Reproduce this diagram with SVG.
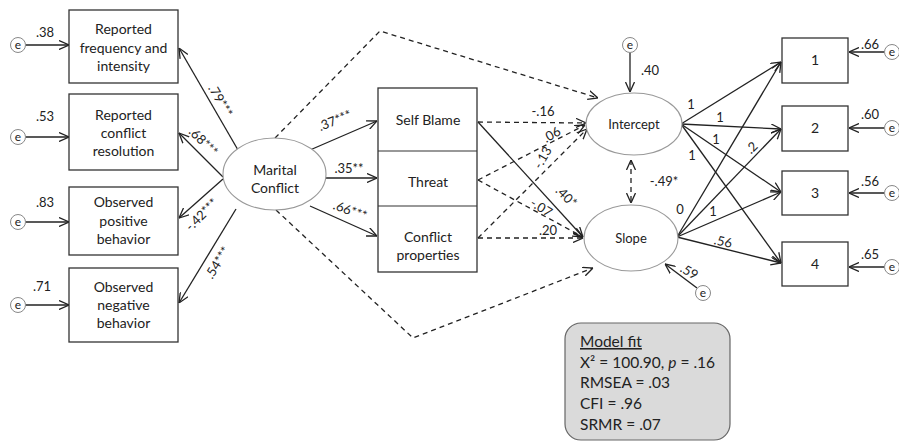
<svg xmlns="http://www.w3.org/2000/svg" width="899" height="443" viewBox="0 0 899 443">
<defs>
<style>
.box{fill:#fff;stroke:#333;stroke-width:1.3}
.ell{fill:#fff;stroke:#999;stroke-width:1.1}
.ec{fill:#fff;stroke:#888;stroke-width:1}
.t{font-family:Lato,"Liberation Sans",sans-serif;font-size:14px;fill:#222;text-anchor:middle}
.et{font-family:Lato,"Liberation Sans",sans-serif;font-size:12px;fill:#222;text-anchor:middle}
.l{font-family:Lato,"Liberation Sans",sans-serif;font-size:13px;fill:#222;text-anchor:middle}
.fit{font-family:Lato,"Liberation Sans",sans-serif;font-size:15.5px;fill:#222}
.c{fill:none;stroke:#222;stroke-width:1.3;marker-end:url(#a)}
.d{fill:none;stroke:#222;stroke-width:1.3;stroke-dasharray:5 4;marker-end:url(#a)}
</style>
<marker id="a" viewBox="0 0 10 10" refX="10" refY="5" markerWidth="10" markerHeight="10" markerUnits="userSpaceOnUse" orient="auto-start-reverse">
<path d="M0,0.5 L10,5 L0,9.5" fill="none" stroke="#222" stroke-width="1.3"/>
</marker>
</defs>
<rect width="899" height="443" fill="#fff"/>

<g id="connectors">
<path class="c" d="M238,150 L179,48"/>
<path class="c" d="M223,177 L179,133"/>
<path class="c" d="M223,179 L179,218"/>
<path class="c" d="M236,209 L179,303"/>
<path class="c" d="M26,45 L69,45"/>
<path class="c" d="M26,137 L69,137"/>
<path class="c" d="M26,222 L69,222"/>
<path class="c" d="M26,305 L69,305"/>
<path class="c" d="M310,150 L377,121"/>
<path class="c" d="M325,178 L377,178"/>
<path class="c" d="M310,206 L377,236"/>
<path class="d" d="M275,138 L380,31 L598,98"/>
<path class="d" d="M276,210 L413,338 L593,268"/>
<path class="d" d="M478,122 L586,123"/>
<path class="c" d="M478,122 L583,237"/>
<path class="d" d="M478,180 L585,125"/>
<path class="d" d="M478,180 L583,237"/>
<path class="d" d="M478,238 L587,129"/>
<path class="d" d="M478,238 L583,238"/>
<path class="c" d="M630,53 L630,92"/>
<path class="d" d="M631,160 L631,203" marker-start="url(#a)"/>
<path class="c" d="M697,288 L665,264"/>
<path class="c" d="M681,124 L781,62"/>
<path class="c" d="M681,124 L781,129"/>
<path class="c" d="M681,124 L781,192"/>
<path class="c" d="M681,124 L781,263"/>
<path class="c" d="M677,237 L781,62"/>
<path class="c" d="M677,237 L781,129"/>
<path class="c" d="M677,237 L781,192"/>
<path class="c" d="M677,237 L781,263"/>
<path class="c" d="M884,52 L849,52"/>
<path class="c" d="M884,128 L849,128"/>
<path class="c" d="M884,193 L849,193"/>
<path class="c" d="M884,267 L849,267"/>
</g>

<g id="labels">
<text class="l" x="45" y="37">.38</text>
<text class="l" x="45" y="121">.53</text>
<text class="l" x="45" y="207">.83</text>
<text class="l" x="42" y="291">.71</text>
<text class="l" transform="rotate(60 220 101)" x="220" y="105">.79***</text>
<text class="l" transform="rotate(45 203 142)" x="203" y="146">.68***</text>
<text class="l" transform="rotate(-45 202 215)" x="202" y="219">-.42***</text>
<text class="l" transform="rotate(-58 218 263)" x="218" y="267">.54***</text>
<text class="l" transform="rotate(-22 335 121)" x="335" y="125">.37***</text>
<text class="l" x="349" y="173">.35**</text>
<text class="l" transform="rotate(20 350 211)" x="350" y="215">.66***</text>
<text class="l" x="543" y="116">-.16</text>
<text class="l" transform="rotate(-30 552 135)" x="552" y="139">.06</text>
<text class="l" transform="rotate(-60 543 158)" x="543" y="162">-.13</text>
<text class="l" transform="rotate(45 566 197)" x="566" y="201">.40*</text>
<text class="l" transform="rotate(32 541 208)" x="541" y="212">-.07</text>
<text class="l" x="548" y="235">.20</text>
<text class="l" x="650" y="75">.40</text>
<text class="l" x="664" y="186">-.49*</text>
<text class="l" transform="rotate(30 689 272)" x="689" y="276">.59</text>
<text class="l" x="691" y="109">1</text>
<text class="l" x="720" y="122">1</text>
<text class="l" x="716" y="144">1</text>
<text class="l" x="692" y="160">1</text>
<text class="l" x="680" y="214">0</text>
<text class="l" transform="rotate(-45 752 148)" x="752" y="152">.2</text>
<text class="l" x="713" y="216">1</text>
<text class="l" transform="rotate(12 723 242)" x="723" y="246">.56</text>
<text class="l" x="870" y="49">.66</text>
<text class="l" x="870" y="119">.60</text>
<text class="l" x="870" y="186">.56</text>
<text class="l" x="870" y="259">.65</text>
</g>

<g id="e1"><circle class="ec" cx="18" cy="45" r="7.5"/><text class="et" x="18" y="49">e</text></g>
<g id="e2"><circle class="ec" cx="18" cy="137" r="7.5"/><text class="et" x="18" y="141">e</text></g>
<g id="e3"><circle class="ec" cx="18" cy="222" r="7.5"/><text class="et" x="18" y="226">e</text></g>
<g id="e4"><circle class="ec" cx="18" cy="305" r="7.5"/><text class="et" x="18" y="309">e</text></g>

<g id="reported-frequency"><rect class="box" x="69" y="10" width="109" height="73"/>
<text class="t" x="123.5" y="34">Reported</text><text class="t" x="123.5" y="53">frequency and</text><text class="t" x="123.5" y="71">intensity</text></g>
<g id="reported-resolution"><rect class="box" x="69" y="94" width="109" height="76"/>
<text class="t" x="123.5" y="120">Reported</text><text class="t" x="123.5" y="138">conflict</text><text class="t" x="123.5" y="156">resolution</text></g>
<g id="observed-positive"><rect class="box" x="69" y="187" width="109" height="68"/>
<text class="t" x="123.5" y="207">Observed</text><text class="t" x="123.5" y="226">positive</text><text class="t" x="123.5" y="244">behavior</text></g>
<g id="observed-negative"><rect class="box" x="69" y="268" width="109" height="74"/>
<text class="t" x="123.5" y="292">Observed</text><text class="t" x="123.5" y="310">negative</text><text class="t" x="123.5" y="328">behavior</text></g>

<g id="marital-conflict"><ellipse class="ell" cx="274.5" cy="174" rx="51.5" ry="36"/>
<text class="t" x="275" y="175">Marital</text><text class="t" x="275" y="193">Conflict</text></g>

<g id="appraisals"><rect class="box" x="378" y="88" width="99" height="184"/>
<line x1="378" y1="151" x2="477" y2="151" stroke="#333" stroke-width="1.2"/>
<line x1="378" y1="206" x2="477" y2="206" stroke="#333" stroke-width="1.2"/>
<text class="t" x="428" y="125">Self Blame</text>
<text class="t" x="428" y="187">Threat</text>
<text class="t" x="428" y="242">Conflict</text><text class="t" x="428" y="260">properties</text></g>

<g id="intercept"><ellipse class="ell" cx="634" cy="124" rx="48" ry="31"/><text class="t" x="634" y="129" style="font-size:13px">Intercept</text></g>
<g id="slope"><ellipse class="ell" cx="631" cy="238" rx="47" ry="33"/><text class="t" x="631" y="243" style="font-size:13px">Slope</text></g>
<g id="e-intercept"><circle class="ec" cx="630" cy="45" r="7.5"/><text class="et" x="630" y="49">e</text></g>
<g id="e-slope"><circle class="ec" cx="703" cy="293" r="7.5"/><text class="et" x="703" y="297">e</text></g>

<g id="t1"><rect class="box" x="782" y="38" width="66" height="45"/><text class="t" x="815" y="65">1</text></g>
<g id="t2"><rect class="box" x="782" y="106" width="66" height="45"/><text class="t" x="815" y="133">2</text></g>
<g id="t3"><rect class="box" x="782" y="171" width="66" height="44"/><text class="t" x="815" y="198">3</text></g>
<g id="t4"><rect class="box" x="782" y="242" width="66" height="44"/><text class="t" x="815" y="269">4</text></g>
<g id="e5"><circle class="ec" cx="892" cy="52" r="7.5"/><text class="et" x="892" y="56">e</text></g>
<g id="e6"><circle class="ec" cx="892" cy="128" r="7.5"/><text class="et" x="892" y="132">e</text></g>
<g id="e7"><circle class="ec" cx="892" cy="193" r="7.5"/><text class="et" x="892" y="197">e</text></g>
<g id="e8"><circle class="ec" cx="892" cy="267" r="7.5"/><text class="et" x="892" y="271">e</text></g>

<g id="model-fit"><rect x="565" y="323" width="165" height="117" rx="16" fill="#dadada" stroke="#666" stroke-width="1.2"/>
<text class="fit" x="580" y="347" text-decoration="underline">Model fit</text>
<text class="fit" x="580" y="368">X² = 100.90, <tspan font-style="italic">p</tspan> = .16</text>
<text class="fit" x="580" y="388">RMSEA = .03</text>
<text class="fit" x="580" y="409">CFI = .96</text>
<text class="fit" x="580" y="430">SRMR = .07</text></g>
</svg>
